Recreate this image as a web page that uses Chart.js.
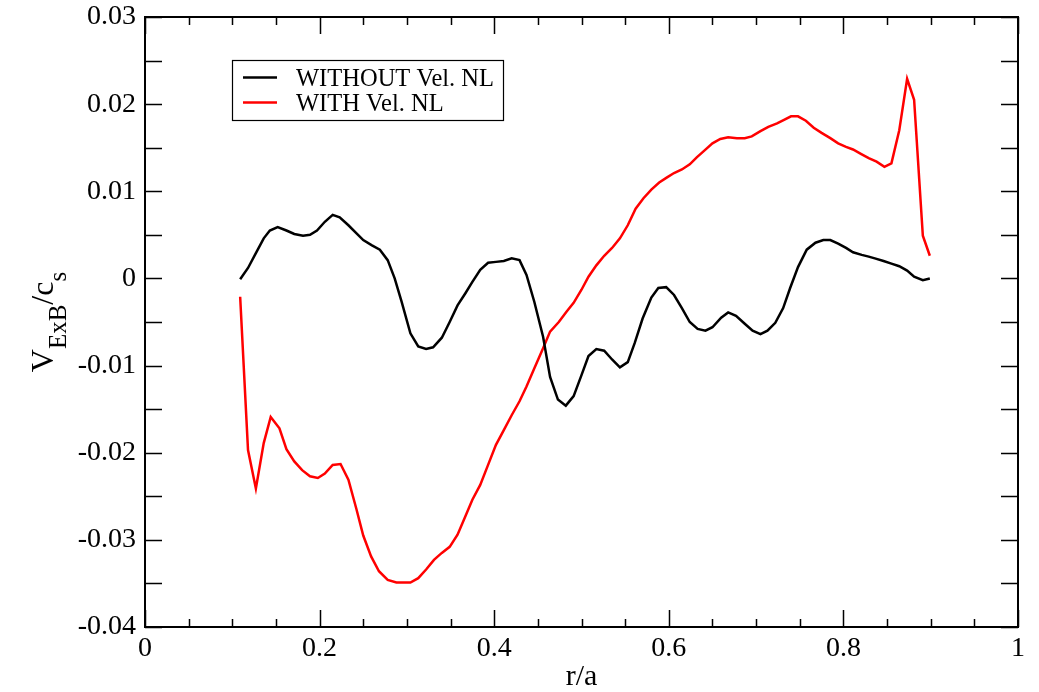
<!DOCTYPE html>
<html>
<head>
<meta charset="utf-8">
<title>V_ExB / c_s vs r/a</title>
<script src="https://cdn.jsdelivr.net/npm/chart.js@4/dist/chart.umd.min.js"></script>
<style>
  html, body { margin: 0; padding: 0; background: #fff; }
  #wrap { width: 1039px; height: 692px; }
</style>
</head>
<body>
<div id="wrap"><canvas id="profileChart"></canvas></div>
<script>
(() => {
  'use strict'

  // radial position r/a and V_ExB/c_s
  const rWithout = [
    0.109, 0.118, 0.127, 0.136, 0.143, 0.152, 0.162, 0.171, 0.181, 0.189,
    0.197, 0.206, 0.215, 0.223, 0.233, 0.242, 0.250, 0.260, 0.269, 0.278,
    0.286, 0.294, 0.304, 0.313, 0.322, 0.330, 0.340, 0.349, 0.358, 0.367,
    0.375, 0.384, 0.393, 0.402, 0.411, 0.420, 0.429, 0.437, 0.446, 0.456,
    0.464, 0.473, 0.482, 0.491, 0.500, 0.508, 0.517, 0.526, 0.535, 0.544,
    0.553, 0.561, 0.570, 0.580, 0.588, 0.597, 0.606, 0.615, 0.624, 0.633,
    0.642, 0.650, 0.660, 0.668, 0.677, 0.687, 0.696, 0.705, 0.713, 0.722,
    0.731, 0.739, 0.748, 0.758, 0.768, 0.777, 0.785, 0.794, 0.803, 0.811,
    0.821, 0.829, 0.836, 0.846, 0.855, 0.864, 0.873, 0.881, 0.891, 0.899
  ]
  const vWithout = [
    -0.0001, 0.0012, 0.0029, 0.0046, 0.0055, 0.0059, 0.0055, 0.0051, 0.0049, 0.0050,
    0.0055, 0.0065, 0.0073, 0.0070, 0.0061, 0.0052, 0.0044, 0.0038, 0.0033, 0.0021,
    0.0000, -0.0027, -0.0063, -0.0078, -0.0081, -0.0079, -0.0068, -0.0050, -0.0031, -0.0017,
    -0.0004, 0.0010, 0.0018, 0.0019, 0.0020, 0.0023, 0.0021, 0.0004, -0.0027, -0.0067,
    -0.0113, -0.0139, -0.0146, -0.0135, -0.0111, -0.0089, -0.0081, -0.0083, -0.0093, -0.0102,
    -0.0096, -0.0074, -0.0046, -0.0022, -0.0011, -0.0010, -0.0019, -0.0034, -0.0050, -0.0058,
    -0.0060, -0.0056, -0.0045, -0.0039, -0.0043, -0.0052, -0.0060, -0.0064, -0.0060, -0.0051,
    -0.0034, -0.0011, 0.0013, 0.0033, 0.0041, 0.0044, 0.0044, 0.0040, 0.0035, 0.0030,
    0.0027, 0.0025, 0.0023, 0.0020, 0.0017, 0.0014, 0.0009, 0.0002, -0.0002, 0.0000
  ]

  const rWith = [
    0.109, 0.118, 0.127, 0.136, 0.144, 0.154, 0.162, 0.171, 0.180, 0.189,
    0.198, 0.206, 0.215, 0.224, 0.233, 0.242, 0.250, 0.259, 0.268, 0.278,
    0.288, 0.296, 0.304, 0.313, 0.322, 0.331, 0.340, 0.349, 0.358, 0.367,
    0.375, 0.384, 0.393, 0.402, 0.411, 0.420, 0.429, 0.437, 0.446, 0.456,
    0.464, 0.474, 0.483, 0.491, 0.500, 0.508, 0.517, 0.526, 0.535, 0.544,
    0.553, 0.562, 0.571, 0.580, 0.589, 0.598, 0.606, 0.615, 0.624, 0.632,
    0.641, 0.650, 0.659, 0.668, 0.678, 0.687, 0.695, 0.705, 0.714, 0.724,
    0.732, 0.740, 0.748, 0.757, 0.766, 0.775, 0.785, 0.794, 0.803, 0.811,
    0.820, 0.829, 0.838, 0.847, 0.855, 0.864, 0.873, 0.881, 0.891, 0.899
  ]
  const vWith = [
    -0.0021, -0.0197, -0.0241, -0.0189, -0.0159, -0.0172, -0.0196, -0.0210, -0.0220, -0.0227,
    -0.0229, -0.0224, -0.0214, -0.0213, -0.0231, -0.0264, -0.0295, -0.0319, -0.0336, -0.0346,
    -0.0349, -0.0349, -0.0349, -0.0344, -0.0334, -0.0323, -0.0315, -0.0308, -0.0294, -0.0273,
    -0.0254, -0.0237, -0.0214, -0.0191, -0.0174, -0.0157, -0.0141, -0.0124, -0.0103, -0.0080,
    -0.0061, -0.0050, -0.0038, -0.0028, -0.0013, 0.0002, 0.0015, 0.0026, 0.0035, 0.0046,
    0.0061, 0.0080, 0.0092, 0.0102, 0.0110, 0.0116, 0.0121, 0.0125, 0.0131, 0.0139,
    0.0147, 0.0155, 0.0160, 0.0162, 0.0161, 0.0161, 0.0163, 0.0169, 0.0174, 0.0178,
    0.0182, 0.0186, 0.0186, 0.0181, 0.0173, 0.0167, 0.0161, 0.0155, 0.0151, 0.0148,
    0.0143, 0.0138, 0.0134, 0.0128, 0.0132, 0.0170, 0.0229, 0.0205, 0.0049, 0.0026
  ]

  const seriesNames = ['WITHOUT Vel. NL', 'WITH Vel. NL']
  const seriesColors = ['#000000', '#ff0000']

  const xTicks = [0, 0.2, 0.4, 0.6, 0.8, 1]
  const yTicks = [-0.04, -0.03, -0.02, -0.01, 0, 0.01, 0.02, 0.03]

  const serif = "'Liberation Serif', 'DejaVu Serif', serif"

  const toPoints = (xs, ys) => xs.map((x, i) => ({ x: x, y: ys[i] }))

  // frame, inward ticks on all four sides, legend box and y title
  const xmgrDecor = {
    id: 'xmgrDecor',
    afterDatasetsDraw(chart) {
      const { ctx, chartArea: a, scales: { x, y } } = chart
      ctx.save()
      ctx.strokeStyle = '#000'
      ctx.lineWidth = 1.5
      ctx.beginPath()
      for (let i = 0; i <= 20; i++) {
        const px = Math.round(x.getPixelForValue(i * 0.05)) + 0.5
        const len = i % 4 === 0 ? 17 : 8
        ctx.moveTo(px, a.bottom); ctx.lineTo(px, a.bottom - len)
        ctx.moveTo(px, a.top); ctx.lineTo(px, a.top + len)
      }
      for (let i = 0; i <= 14; i++) {
        const py = Math.round(y.getPixelForValue(-0.04 + i * 0.005)) + 0.5
        ctx.moveTo(a.left, py); ctx.lineTo(a.left + 17, py)
        ctx.moveTo(a.right, py); ctx.lineTo(a.right - 17, py)
      }
      ctx.stroke()
      ctx.lineWidth = 2
      ctx.strokeRect(a.left, a.top, a.right - a.left, a.bottom - a.top)

      // legend
      ctx.lineWidth = 1.2
      ctx.strokeRect(232.5, 60.5, 271, 60)
      ctx.font = '24.5px ' + serif
      ctx.textBaseline = 'alphabetic'
      ctx.textAlign = 'left'
      const rows = [77.5, 102.5]
      seriesNames.forEach((name, i) => {
        ctx.strokeStyle = seriesColors[i]
        ctx.lineWidth = 2.5
        ctx.beginPath()
        ctx.moveTo(243, rows[i]); ctx.lineTo(277, rows[i])
        ctx.stroke()
        ctx.fillStyle = '#000'
        ctx.fillText(name, 296, rows[i] + 8)
      })

      // y title: V_ExB / c_s
      ctx.translate(53, 322)
      ctx.rotate(-Math.PI / 2)
      const big = '32px ' + serif
      const small = '25px ' + serif
      const parts = [['V', big, 0], ['ExB', small, 13], ['/c', big, 0], ['s', small, 13]]
      let total = 0
      parts.forEach(p => { ctx.font = p[1]; total += ctx.measureText(p[0]).width })
      let cx = -total / 2
      ctx.fillStyle = '#000'
      parts.forEach(p => {
        ctx.font = p[1]
        ctx.fillText(p[0], cx, p[2])
        cx += ctx.measureText(p[0]).width
      })
      ctx.restore()
    }
  }

  const ctx = document.getElementById('profileChart')
  // eslint-disable-next-line no-unused-vars
  const profileChart = new Chart(ctx, {
    type: 'line',
    data: {
      datasets: [
        {
          label: seriesNames[0],
          data: toPoints(rWithout, vWithout),
          borderColor: seriesColors[0],
          borderWidth: 2.5,
          pointRadius: 0,
          tension: 0,
          fill: false
        },
        {
          label: seriesNames[1],
          data: toPoints(rWith, vWith),
          borderColor: seriesColors[1],
          borderWidth: 2.5,
          pointRadius: 0,
          tension: 0,
          fill: false
        }
      ]
    },
    options: {
      responsive: true,
      maintainAspectRatio: false,
      animation: false,
      layout: {
        padding: { top: 17, right: 21, left: 0, bottom: 0 }
      },
      plugins: {
        legend: { display: false },
        tooltip: { enabled: false }
      },
      scales: {
        x: {
          type: 'linear',
          min: 0,
          max: 1,
          afterFit: (scale) => {
            scale.height = 65
            scale.paddingLeft = 0
            scale.paddingRight = 0
          },
          afterBuildTicks: (scale) => { scale.ticks = xTicks.map(v => ({ value: v })) },
          grid: { display: false, drawTicks: false },
          border: { display: false },
          ticks: {
            padding: 5,
            color: '#000',
            font: { family: serif, size: 28 },
            callback: (v) => String(parseFloat(Number(v).toFixed(1)))
          },
          title: {
            display: true,
            text: 'r/a',
            color: '#000',
            padding: 0,
            font: { family: serif, size: 30, lineHeight: 1 }
          }
        },
        y: {
          min: -0.04,
          max: 0.03,
          afterFit: (scale) => {
            scale.width = 145
            scale.paddingTop = 0
            scale.paddingBottom = 0
          },
          afterBuildTicks: (scale) => { scale.ticks = yTicks.map(v => ({ value: v })) },
          grid: { display: false, drawTicks: false },
          border: { display: false },
          ticks: {
            padding: 9,
            color: '#000',
            font: { family: serif, size: 28 },
            callback: (v) => {
              const r = Math.round(v * 100) / 100
              return r === 0 ? '0' : r.toFixed(2)
            }
          }
        }
      }
    },
    plugins: [xmgrDecor]
  })
})()
</script>
</body>
</html>
